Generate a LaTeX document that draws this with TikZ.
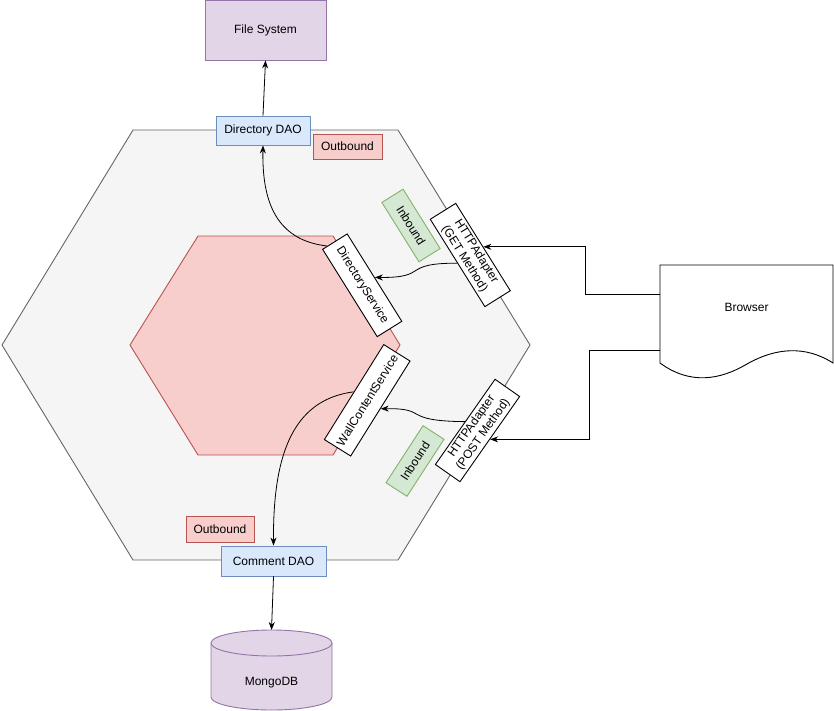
\documentclass[tikz,border=0pt]{standalone}
\usepackage{fontspec}
\setmainfont{Liberation Sans}
\usetikzlibrary{arrows.meta,calc}
\definecolor{hexfill}{HTML}{F5F5F5}
\definecolor{hexline}{HTML}{666666}
\definecolor{redfill}{HTML}{F8CECC}
\definecolor{redline}{HTML}{B85450}
\definecolor{bluefill}{HTML}{DAE8FC}
\definecolor{blueline}{HTML}{6C8EBF}
\definecolor{purpfill}{HTML}{E1D5E7}
\definecolor{purpline}{HTML}{9673A6}
\definecolor{greenfill}{HTML}{D5E8D4}
\definecolor{greenline}{HTML}{82B366}
\begin{document}
\begin{tikzpicture}[x=1pt,y=-1pt,
  every node/.style={font=\fontsize{12}{14}\selectfont, inner sep=0pt, align=center},
  box/.style={draw, line width=0.9pt, minimum width=#1},
  plainbox/.style={box=#1, fill=white, draw=black},
  bluebox/.style={box=#1, fill=bluefill, draw=blueline},
  redbox/.style={box=#1, fill=redfill, draw=redline},
  greenbox/.style={box=#1, fill=greenfill, draw=greenline},
  arr/.style={-{Stealth[length=8pt,width=6pt]}, line width=0.8pt}
]
\useasboundingbox (0,0) rectangle (834,711);

% hexagons
\draw[fill=hexfill, draw=hexline, line width=0.9pt]
  (2,345) -- (133,130) -- (398,130) -- (530,345) -- (398,560) -- (133,560) -- cycle;
\draw[fill=redfill, draw=redline, line width=0.9pt]
  (130,345) -- (198,236) -- (333,236) -- (400,345) -- (333,455) -- (198,455) -- cycle;

% external systems
\node[box=121pt, minimum height=60pt, fill=purpfill, draw=purpline] (fs) at (265.5,30) {File System};

% cylinder
\coordinate (mtop) at (271.5,630);
\fill[purpfill] (211,643) -- (211,697)
  .. controls (211,704.18) and (238.1,710) .. (271.5,710)
  .. controls (304.9,710) and (332,704.18) .. (332,697) -- (332,643) -- cycle;
\draw[purpline, line width=0.9pt] (211,643) -- (211,697)
  .. controls (211,704.18) and (238.1,710) .. (271.5,710)
  .. controls (304.9,710) and (332,704.18) .. (332,697) -- (332,643);
\draw[purpline, fill=purpfill, line width=0.9pt] (211,643)
  .. controls (211,635.82) and (238.1,630) .. (271.5,630)
  .. controls (304.9,630) and (332,635.82) .. (332,643)
  .. controls (332,650.18) and (304.9,656) .. (271.5,656)
  .. controls (238.1,656) and (211,650.18) .. (211,643) -- cycle;
\node (mongo) at (271.5,683) {MongoDB};

% browser document shape
\draw[fill=white, line width=0.9pt] (660,265) -- (833,265) -- (833,363)
  .. controls (805,345) and (775,348) .. (747,364)
  .. controls (720,380) and (690,385) .. (660,363) -- cycle;
\node (browser) at (746.5,307.5) {Browser};
\coordinate (bw1) at (660,294);
\coordinate (bw2) at (660,350);

% DAOs
\node[bluebox=94pt, minimum height=29pt] (ddao) at (263,130.5) {Directory DAO};
\node[bluebox=105pt, minimum height=30pt] (cdao) at (273.5,561) {Comment DAO};

% labels
\node[redbox=69pt, minimum height=25pt] (out1) at (347.5,146.5) {Outbound};
\node[redbox=68pt, minimum height=26pt] (out2) at (220,529) {Outbound};
\node[greenbox=70pt, minimum height=25pt, rotate=-58] (in1) at (411,225.5) {Inbound};
\node[greenbox=68pt, minimum height=25pt, rotate=57] (in2) at (415,461) {Inbound};

% services and adapters
\node[plainbox=103pt, minimum height=29pt, rotate=-58] (ds) at (362.2,285.3) {DirectoryService};
\node[plainbox=103pt, minimum height=30pt, rotate=-58] (get) at (470.3,255) {HTTPAdapter\\(GET Method)};
\node[plainbox=112pt, minimum height=31pt, rotate=58] (wcs) at (367.2,400.3) {WallContentService};
\node[plainbox=104pt, minimum height=30pt, rotate=55] (post) at (477.5,430.5) {HTTPAdapter\\(POST Method)};

% connectors
\draw[arr] (ddao.north) -- (fs.south);
\draw[arr] (cdao.south) -- (mtop);
\draw[arr] ($(ds.west)!0.6!(ds.south west)$) .. controls (275,240) and (262,200) .. (ddao.south);
\draw[arr] (wcs.north) .. controls (290,400) and (273,460) .. (cdao.north);
\draw[arr] (get.south) .. controls (400,263) and (430,278) .. (ds.north);
\draw[arr] (post.north) .. controls (400,421) and (430,408) .. (wcs.south);
\draw[arr] (bw1) -- (585,294) |- (get.north);
\draw[arr] (bw2) -- (589.5,350) |- (post.south);
\end{tikzpicture}
\end{document}
